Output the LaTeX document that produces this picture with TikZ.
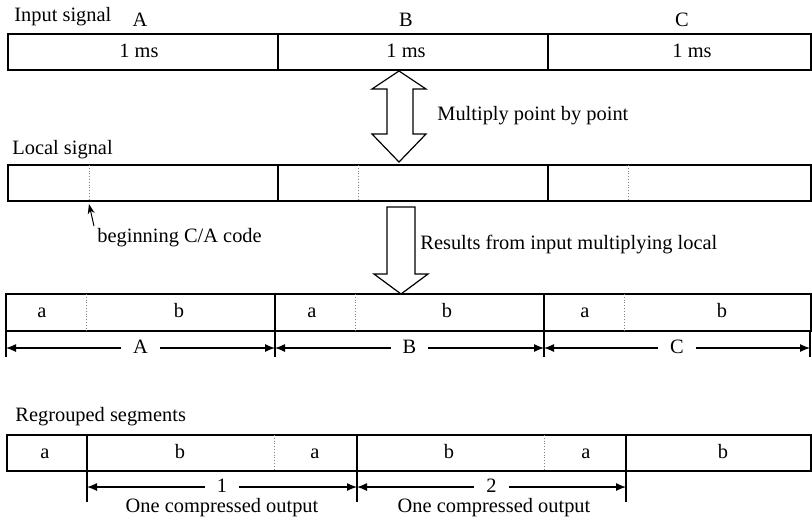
\documentclass[tikz,border=0pt]{standalone}
\usepackage{fontspec}
\setmainfont{Liberation Serif}
\usetikzlibrary{arrows.meta}

\tikzset{
  seg/.style={draw=black, line width=0.6pt},
  subseg/.style={draw=gray, densely dotted, line width=0.4pt},
  seglbl/.style={text height=1.6ex, text depth=0.3ex, inner ysep=0pt},
  dimline/.style={{Latex[length=5pt,width=4pt]}-{Latex[length=5pt,width=4pt]}, line width=0.6pt},
  dimlabel/.style={seglbl, fill=white, inner xsep=6pt},
  blockarrow/.style={draw=black, line width=0.6pt, fill=white},
  lbl/.style={anchor=west, inner sep=0pt},
}

\begin{document}
\begin{tikzpicture}[x=0.5pt,y=-0.5pt,font=\fontsize{10.2pt}{12pt}\selectfont]
\useasboundingbox (0,0) rectangle (812,521);
% input signal
\node[lbl] (inlbl) at (14,17) {Input signal};
\draw[seg] (8,34) rectangle (811,70);
\foreach \x in {278,548} \draw[seg] (\x,34) -- (\x,70);
\foreach \x/\t in {140/A,406/B,682/C} \node[seglbl] (in\t) at (\x,21) {\t};
\foreach \x/\t in {139/A,406/B,692/C} \node[seglbl] (ms\t) at (\x,52) {1 ms};
% multiply arrow
\draw[blockarrow] (399,71) -- (426,89) -- (413,89) -- (413,134) -- (426,134) -- (399,162)
  -- (372,134) -- (387,134) -- (387,89) -- (372,89) -- cycle;
\node[lbl] (mult) at (437,116) {Multiply point by point};
% local signal
\node[lbl] (loclbl) at (12,150) {Local signal};
\draw[seg] (8,165) rectangle (811,201);
\foreach \x in {278,548} \draw[seg] (\x,165) -- (\x,201);
\foreach \x in {89,358,628} \draw[subseg] (\x,165) -- (\x,201);
\node[lbl] (bcode) at (97,238) {beginning C/A code};
\coordinate (catail) at (94,226);
\coordinate (catip) at (89,204);
\draw[-{Stealth[length=5pt,width=3.5pt]},line width=0.5pt] (catail) -- (catip);
% result arrow
\draw[blockarrow] (387,207) -- (415,207) -- (415,274) -- (428,274) -- (401,294)
  -- (374,274) -- (387,274) -- cycle;
\node[lbl] (res) at (420,245) {Results from input multiplying local};
% product
\draw[seg] (6,294) rectangle (811,331);
\foreach \x in {275,544} \draw[seg] (\x,294) -- (\x,331);
\foreach \x in {86,355,624} \draw[subseg] (\x,294) -- (\x,331);
\foreach \x/\t [count=\i] in {42/a,179/b,312/a,447/b,585/a,722/b} \node[seglbl] (p\i) at (\x,312) {\t};
\foreach \x [count=\i] in {6,275,544,810}{
  \draw[line width=0.6pt] (\x,331) -- (\x,357);
  \coordinate (d\i) at (\x,348);
}
\draw[dimline] (d1) -- (d2) node[midway,dimlabel] (dimA) {A};
\draw[dimline] (d2) -- (d3) node[midway,dimlabel] (dimB) {B};
\draw[dimline] (d3) -- (d4) node[midway,dimlabel] (dimC) {C};
% regrouped
\node[lbl] (reglbl) at (15,417) {Regrouped segments};
\draw[seg] (7,435) rectangle (811,471);
\foreach \x in {87,357,626} \draw[seg] (\x,435) -- (\x,471);
\foreach \x in {274,544} \draw[subseg] (\x,435) -- (\x,471);
\foreach \x/\t [count=\i] in {45/a,180/b,315/a,449/b,586/a,723/b} \node[seglbl] (r\i) at (\x,453) {\t};
\foreach \x [count=\i] in {87,357,626}{
  \draw[line width=0.6pt] (\x,471) -- (\x,502);
  \coordinate (g\i) at (\x,487);
}
\draw[dimline] (g1) -- (g2) node[midway,dimlabel] (out1) {1};
\draw[dimline] (g2) -- (g3) node[midway,dimlabel] (out2) {2};
\node[seglbl] (cmp1) at (222,507) {One compressed output};
\node[seglbl] (cmp2) at (494,507) {One compressed output};
\end{tikzpicture}
\end{document}
